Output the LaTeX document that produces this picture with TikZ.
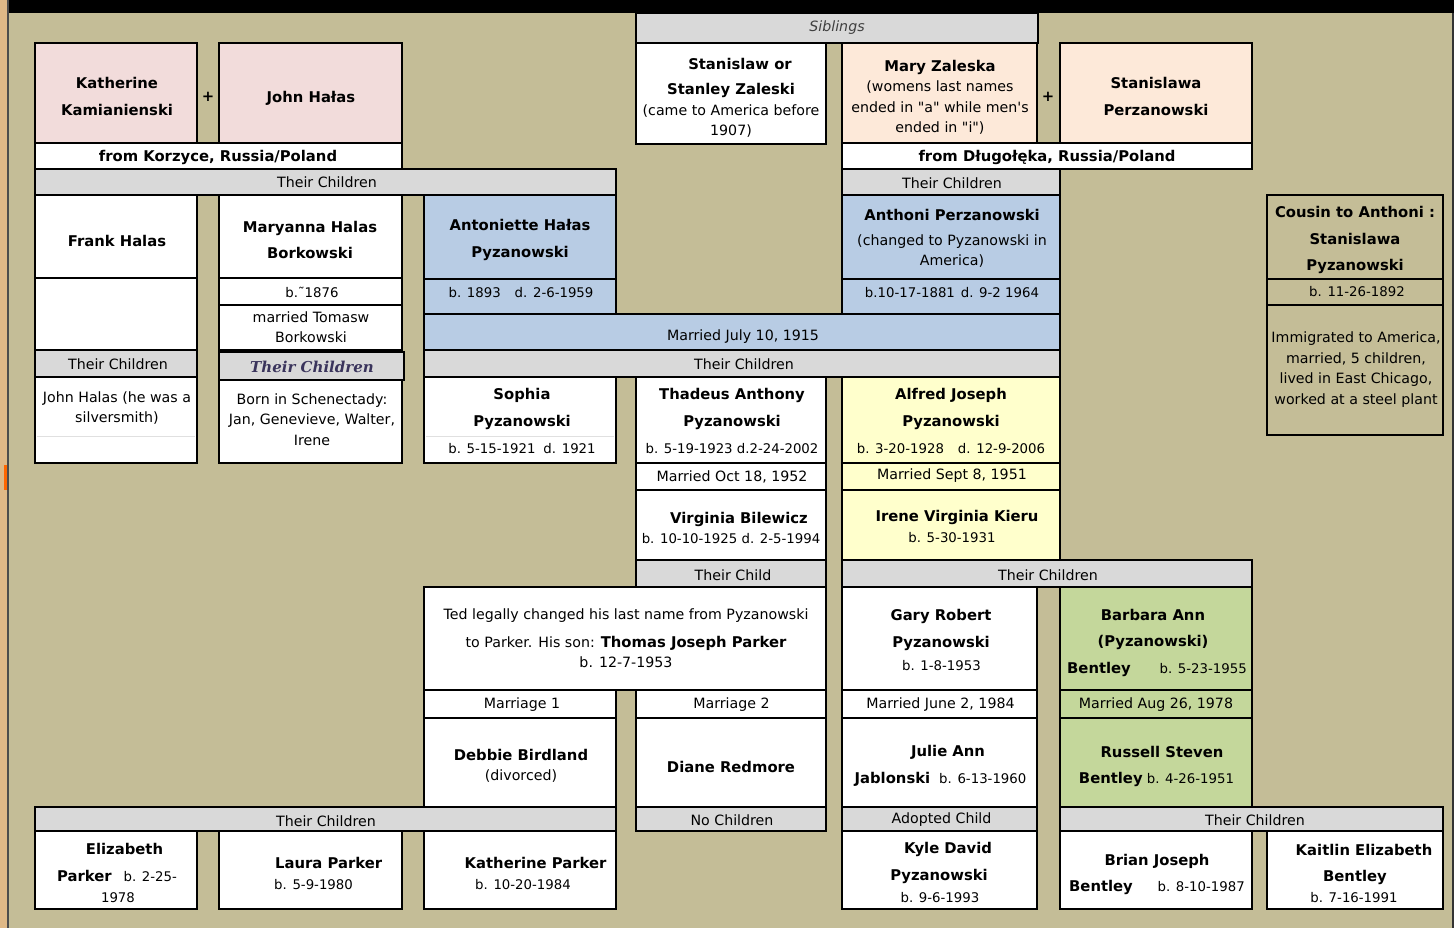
\documentclass[tikz,border=0pt]{standalone}
\usepackage{fontspec}
\setmainfont{DejaVu Sans}
\newfontfamily\PlainFace{DejaVu Sans}
\newfontfamily\ScriptFace{DejaVu Serif}
\usepackage{tikz}
\usepackage{xcolor}
\definecolor{ColTan}{RGB}{196,189,151}
\definecolor{ColWood}{RGB}{222,184,135}
\definecolor{ColGrey}{RGB}{217,217,217}
\definecolor{ColPink}{RGB}{242,220,219}
\definecolor{ColPeach}{RGB}{253,233,217}
\definecolor{ColBlue}{RGB}{184,204,228}
\definecolor{ColYellow}{RGB}{255,255,204}
\definecolor{ColGreen}{RGB}{196,215,155}
\definecolor{ColScript}{RGB}{58,52,92}
\newcommand{\NameFont}{\bfseries\fontsize{14.8}{26.5}\selectfont}
\newcommand{\NoteFont}{\fontsize{14.2}{20.5}\selectfont}
\newcommand{\DateFont}{\fontsize{13.3}{20.5}\selectfont}
\tikzstyle{CellBox}=[draw=black,line width=2pt]
\tikzstyle{FaintLine}=[draw=black!12,line width=1pt]
\tikzstyle{TxtName}=[font=\NameFont,align=center,inner sep=0pt]
\tikzstyle{TxtNote}=[font=\NoteFont,align=center,inner sep=0pt]
\tikzstyle{TxtDate}=[font=\DateFont,align=center,inner sep=0pt]

\begin{document}
\begin{tikzpicture}[x=1pt,y=-1pt]
        \useasboundingbox (0,0) rectangle (1454,928);
        % sheet and frame
        \fill[ColTan] (0,0) rectangle (1454,928);
        \fill[ColWood] (0,0) rectangle (7,928);
        \fill[orange!80!red] (4,465) rectangle (7,490);
        \fill[black] (8,0) rectangle (1454,13);
        \draw[black!70,line width=1.5pt] (8,0) -- (8,928);
        \draw[black!80,line width=2pt] (1453,13) -- (1453,928);
        % grandparents
        \draw[CellBox,fill=ColGrey] (636,13) rectangle (1038,43);
        \draw[CellBox,fill=ColPink] (35,43) rectangle (197,143);
        \draw[CellBox,fill=ColPink] (219,43) rectangle (402,143);
        \draw[CellBox,fill=white] (35,143) rectangle (402,169);
        \draw[CellBox,fill=ColGrey] (35,169) rectangle (616,195);
        \draw[CellBox,fill=white] (636,43) rectangle (826,144);
        \draw[CellBox,fill=ColPeach] (842,43) rectangle (1037,143);
        \draw[CellBox,fill=ColPeach] (1060,43) rectangle (1252,143);
        \draw[CellBox,fill=white] (842,143) rectangle (1252,169);
        \draw[CellBox,fill=ColGrey] (842,169) rectangle (1060,195);
        % Halas children
        \draw[CellBox,fill=white] (35,195) rectangle (197,278);
        \draw[CellBox,fill=white] (35,278) rectangle (197,350);
        \draw[CellBox,fill=ColGrey] (35,350) rectangle (197,377);
        \draw[CellBox,fill=white] (35,377) rectangle (197,463);
        \draw[FaintLine] (37,436) -- (195,436);
        \draw[CellBox,fill=white] (219,195) rectangle (402,278);
        \draw[CellBox,fill=white] (219,278) rectangle (402,305);
        \draw[CellBox,fill=white] (219,305) rectangle (402,350);
        \draw[CellBox,fill=white] (219,380) rectangle (402,463);
        \draw[CellBox,fill=ColGrey] (219,352) rectangle (404,380);
        \draw[CellBox,fill=ColBlue] (424,195) rectangle (616,279);
        \draw[CellBox,fill=ColBlue] (424,279) rectangle (616,314);
        \draw[CellBox,fill=ColBlue] (842,195) rectangle (1060,279);
        \draw[CellBox,fill=ColBlue] (842,279) rectangle (1060,314);
        \draw[CellBox,fill=ColBlue] (424,314) rectangle (1060,350);
        \draw[CellBox,fill=ColGrey] (424,350) rectangle (1060,377);
        % cousin
        \draw[CellBox] (1267,195) rectangle (1443,435);
        \draw[CellBox] (1267,279) -- (1443,279);
        \draw[CellBox] (1267,305) -- (1443,305);
        % Pyzanowski children
        \draw[CellBox,fill=white] (424,377) rectangle (616,463);
        \draw[FaintLine] (426,436) -- (614,436);
        \draw[CellBox,fill=white] (636,377) rectangle (826,463);
        \draw[CellBox,fill=white] (636,463) rectangle (826,490);
        \draw[CellBox,fill=white] (636,490) rectangle (826,560);
        \draw[CellBox,fill=ColGrey] (636,560) rectangle (826,587);
        \draw[CellBox,fill=ColYellow] (842,377) rectangle (1060,463);
        \draw[CellBox,fill=ColYellow] (842,463) rectangle (1060,490);
        \draw[CellBox,fill=ColYellow] (842,490) rectangle (1060,560);
        \draw[CellBox,fill=ColGrey] (842,560) rectangle (1252,587);
        % grandchildren
        \draw[CellBox,fill=white] (424,587) rectangle (826,690);
        \draw[CellBox,fill=white] (424,690) rectangle (616,718);
        \draw[CellBox,fill=white] (636,690) rectangle (826,718);
        \draw[CellBox,fill=white] (424,718) rectangle (616,807);
        \draw[CellBox,fill=white] (636,718) rectangle (826,807);
        \draw[CellBox,fill=white] (842,587) rectangle (1037,690);
        \draw[CellBox,fill=white] (842,690) rectangle (1037,718);
        \draw[CellBox,fill=white] (842,718) rectangle (1037,807);
        \draw[CellBox,fill=ColGreen] (1060,587) rectangle (1252,690);
        \draw[CellBox,fill=ColGreen] (1060,690) rectangle (1252,718);
        \draw[CellBox,fill=ColGreen] (1060,718) rectangle (1252,807);
        % great-grandchildren
        \draw[CellBox,fill=ColGrey] (35,807) rectangle (616,831);
        \draw[CellBox,fill=ColGrey] (636,807) rectangle (826,831);
        \draw[CellBox,fill=ColGrey] (842,807) rectangle (1037,831);
        \draw[CellBox,fill=ColGrey] (1060,807) rectangle (1443,831);
        \draw[CellBox,fill=white] (35,831) rectangle (197,909);
        \draw[CellBox,fill=white] (219,831) rectangle (402,909);
        \draw[CellBox,fill=white] (424,831) rectangle (616,909);
        \draw[CellBox,fill=white] (842,831) rectangle (1037,909);
        \draw[CellBox,fill=white] (1060,831) rectangle (1252,909);
        \draw[CellBox,fill=white] (1267,831) rectangle (1443,909);

        % texts, top rows
        \node[TxtNote,font=\NoteFont\itshape,text=black!75](sibl)at(837,28){Siblings};
        \node[TxtName](kath)at(117,96.5){Katherine\\Kamianienski};
        \node[TxtName](plusa)at(208,97){+};
        \node[TxtName](johnh)at(311,98){John Hałas};
        \node[TxtName](korz)at(218,157){from Korzyce, Russia/Poland};
        \node[TxtNote](tca)at(327,182){Their Children};
        \node[TxtName](stana)at(740,64){Stanislaw or};
        \node[TxtNote](stanb)at(731,110.5){{\NameFont Stanley Zaleski}\\(came to America before\\1907)};
        \node[TxtNote,font=\PlainFace\NoteFont](mary)at(940,97.5){{\NameFont Mary Zaleska}\\(womens last names\\ended in "a" while men's\\ended in "i")};
        \node[TxtName](plusb)at(1048,97){+};
        \node[TxtName](stwa)at(1156,96.5){Stanislawa\\Perzanowski};
        \node[TxtName](dlug)at(1047,157){from Długołęka, Russia/Poland};
        \node[TxtNote](tcb)at(952,183){Their Children};
        % Halas children
        \node[TxtName](frank)at(117,241){Frank Halas};
        \node[TxtNote](tcc)at(118,364){Their Children};
        \node[TxtNote](silv)at(117,408){John Halas (he was a\\silversmith)};
        \node[TxtName](marya)at(310,240){Maryanna Halas\\Borkowski};
        \node[TxtDate](maryb)at(312,292.5){b.˜1876};
        \node[TxtNote](marym)at(311,327){married Tomasw\\Borkowski};
        \node[TxtNote,font={\ScriptFace\bfseries\itshape\fontsize{15}{18}\selectfont},text=ColScript](tcd)at(312,367){Their Children};
        \node[TxtNote](schen)at(312,419.5){Born in Schenectady:\\Jan, Genevieve, Walter,\\Irene};
        \node[TxtName](anto)at(520,240){Antoniette Hałas\\Pyzanowski};
        \node[TxtDate](antob)at(521,293){b. 1893\hspace{14pt}d. 2-6-1959};
        \node[TxtNote](anth)at(952,238.5){{\NameFont Anthoni Perzanowski}\\[4pt](changed to Pyzanowski in\\America)};
        \node[TxtDate](anthb)at(952,293){b.10-17-1881\hspace{6pt}d. 9-2 1964};
        \node[TxtNote](wed)at(743,337){Married July 10, 1915};
        \node[TxtNote](tce)at(744,364){Their Children};
        % cousin
        \node[TxtName](cous)at(1355,240){Cousin to Anthoni :\\Stanislawa\\Pyzanowski};
        \node[TxtDate](cousb)at(1357,292){b. 11-26-1892};
        \node[TxtNote](cousn)at(1356,369.5){Immigrated to America,\\married, 5 children,\\lived in East Chicago,\\worked at a steel plant};
        % Pyzanowski children
        \node[TxtName](soph)at(522,409){Sophia\\Pyzanowski};
        \node[TxtDate](sophb)at(522,449){b. 5-15-1921\hspace{8pt}d. 1921};
        \node[TxtName](thad)at(732,409){Thadeus Anthony\\Pyzanowski};
        \node[TxtDate](thadb)at(732,449){b. 5-19-1923 d.2-24-2002};
        \node[TxtNote](thadm)at(732,477){Married Oct 18, 1952};
        \node[TxtName](virg)at(739,519){Virginia Bilewicz};
        \node[TxtDate](virgb)at(731,539){b. 10-10-1925 d. 2-5-1994};
        \node[TxtNote](tcf)at(733,575){Their Child};
        \node[TxtName](alfr)at(951,409){Alfred Joseph\\Pyzanowski};
        \node[TxtDate](alfrb)at(951,449){b. 3-20-1928\hspace{14pt}d. 12-9-2006};
        \node[TxtNote](alfrm)at(952,476){Married Sept 8, 1951};
        \node[TxtName](iren)at(957,517){Irene Virginia Kieru};
        \node[TxtDate](irenb)at(952,538){b. 5-30-1931};
        \node[TxtNote](tcg)at(1048,575){Their Children};
        % grandchildren
        \node[TxtNote](ted)at(626,638.5){Ted legally changed his last name from Pyzanowski\\[7pt]to Parker. His son: {\NameFont Thomas Joseph Parker}\\b. 12-7-1953};
        \node[TxtNote](marra)at(522,705){Marriage 1};
        \node[TxtNote](marrb)at(731.5,705){Marriage 2};
        \node[TxtNote](debb)at(521,766){{\NameFont Debbie Birdland}\\(divorced)};
        \node[TxtName](dian)at(731,767){Diane Redmore};
        \node[TxtName](gary)at(941,630){Gary Robert\\Pyzanowski};
        \node[TxtDate](garyb)at(941.5,666){b. 1-8-1953};
        \node[TxtNote](garym)at(940.5,705){Married June 2, 1984};
        \node[TxtName](juli)at(948,752){Julie Ann};
        \node[TxtDate](julib)at(940.5,779){{\NameFont Jablonski}\hspace{9pt}b. 6-13-1960};
        \node[TxtName](barb)at(1153,629.5){Barbara Ann\\(Pyzanowski)};
        \node[TxtName,anchor=west](barbn)at(1067,669){Bentley};
        \node[TxtDate,anchor=east](barbb)at(1247,669){b. 5-23-1955};
        \node[TxtNote](barbm)at(1156,705){Married Aug 26, 1978};
        \node[TxtName](russ)at(1162,752){Russell Steven};
        \node[TxtDate](russb)at(1156.5,779){{\NameFont Bentley} b. 4-26-1951};
        % great-grandchildren
        \node[TxtNote](tch)at(326,821.5){Their Children};
        \node[TxtNote](noch)at(732,820.5){No Children};
        \node[TxtNote](adop)at(941.5,820){Adopted Child};
        \node[TxtNote](tci)at(1255,820){Their Children};
        \node[TxtName](eliz)at(124.5,849){Elizabeth};
        \node[TxtDate](elizb)at(117,876){{\NameFont Parker}\hspace{12pt}b. 2-25-};
        \node[TxtDate](elizc)at(118,898){1978};
        \node[TxtName,anchor=west](laur)at(275,862.5){Laura Parker};
        \node[TxtDate,anchor=west](laurb)at(274,885){b. 5-9-1980};
        \node[TxtName,anchor=west](katp)at(464.5,862.5){Katherine Parker};
        \node[TxtDate,anchor=west](katpb)at(475,885){b. 10-20-1984};
        \node[TxtName](kyle)at(948,849){Kyle David};
        \node[TxtName](kylen)at(939,876){Pyzanowski};
        \node[TxtDate](kyleb)at(940,898){b. 9-6-1993};
        \node[TxtName](bria)at(1157,861){Brian Joseph};
        \node[TxtName,anchor=west](brian)at(1069,887){Bentley};
        \node[TxtDate,anchor=east](briab)at(1245,887){b. 8-10-1987};
        \node[TxtName](kait)at(1364,850){Kaitlin Elizabeth};
        \node[TxtName](kaitn)at(1355,877){Bentley};
        \node[TxtDate](kaitb)at(1354,898){b. 7-16-1991};
    \end{tikzpicture}
\end{document}
